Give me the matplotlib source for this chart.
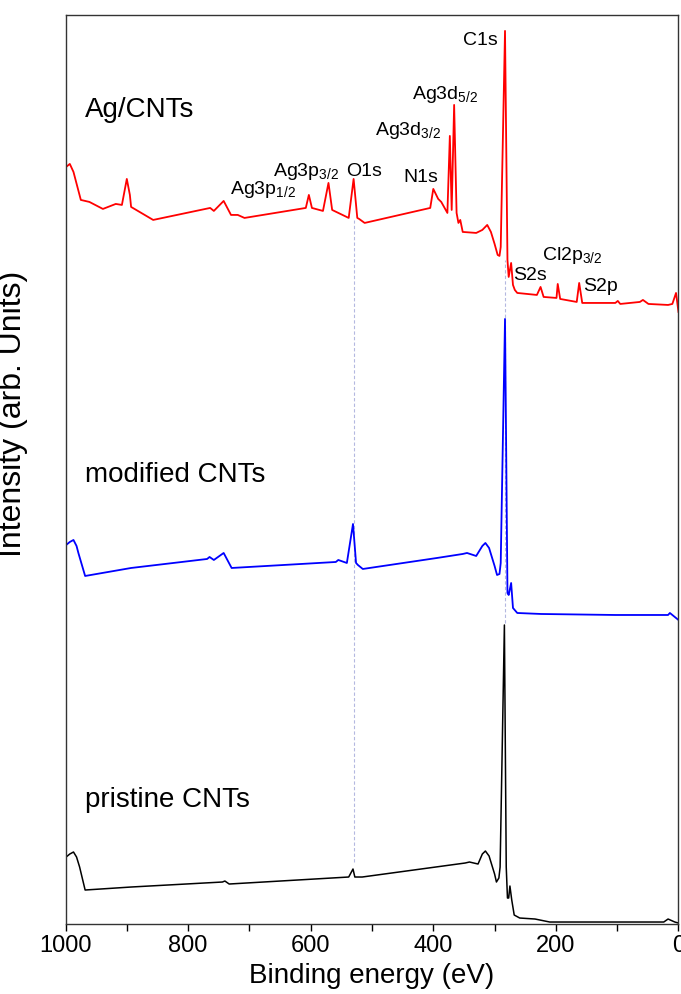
import matplotlib
matplotlib.use("Agg")
import matplotlib.pyplot as plt
from matplotlib.ticker import MultipleLocator

plt.rcParams['font.family'] = ['Liberation Sans', 'DejaVu Sans']
plt.rcParams['mathtext.fontset'] = 'custom'
plt.rcParams['mathtext.rm'] = 'Liberation Sans'
plt.rcParams['mathtext.default'] = 'regular'

# XPS survey spectra (binding energy in eV, intensity in arb. units, already offset)
ag_energy = [999, 993, 987, 981, 975, 961, 939, 918, 908, 900, 895, 893, 857, 764, 758, 742,
             730, 719, 708, 608, 603, 598, 580, 571, 565, 538, 530, 524, 521, 512, 405, 400,
             392, 387, 377, 373, 370, 366, 362, 359, 356, 352, 330, 320, 312, 306, 300, 295,
             292, 290, 283, 279, 277, 273, 270, 267, 263, 231, 225, 220, 199, 197, 193, 166,
             162, 157, 153, 103, 99, 95, 63, 58, 49, 17, 10, 4, 0]
ag_counts = [757, 760, 752, 738, 724, 722, 715, 720, 719, 745, 729, 717, 704, 716, 713, 723,
             709, 709, 706, 716, 729, 716, 713, 741, 714, 706, 745, 706, 705, 701, 716, 735,
             725, 722, 711, 788, 714, 819, 711, 701, 704, 692, 691, 694, 699, 692, 680, 669,
             668, 677, 893, 664, 647, 661, 639, 634, 631, 629, 637, 627, 626, 640, 625, 622,
             641, 621, 621, 621, 623, 620, 622, 624, 620, 619, 620, 631, 612]

mod_energy = [999, 993, 987, 982, 979, 968, 893, 769, 765, 758, 742, 729, 559, 555, 541, 531,
              526, 523, 515, 394, 352, 345, 330, 320, 315, 309, 300, 296, 292, 290, 283, 279,
              277, 273, 270, 263, 224, 103, 17, 14, 0]
mod_counts = [379, 382, 384, 378, 371, 348, 356, 365, 367, 364, 371, 356, 362, 364, 361, 400,
              361, 359, 355, 366, 370, 371, 368, 378, 381, 376, 358, 349, 350, 361, 605, 331,
              329, 341, 316, 311, 310, 309, 309, 311, 304]

pri_energy = [999, 993, 987, 982, 977, 968, 893, 744, 740, 733, 538, 531, 528, 516, 348, 341,
              327, 320, 315, 309, 300, 297, 293, 291, 284, 281, 279, 277, 275, 272, 268, 259,
              234, 210, 24, 17, 6, 0]
pri_counts = [67, 70, 72, 67, 57, 34, 37, 42, 43, 40, 47, 55, 47, 47, 61, 62,
              60, 70, 73, 68, 50, 42, 46, 57, 299, 57, 26, 26, 38, 24, 9, 6,
              5, 2, 2, 5, 2, 1]

sample_names = ['Ag/CNTs', 'modified CNTs', 'pristine CNTs']
sample_label_y = [807, 442, 117]

peak_labels = ['C1s', 'Ag3d$_{5/2}$', 'Ag3d$_{3/2}$', 'Ag3p$_{3/2}$', 'O1s', 'N1s',
               'Ag3p$_{1/2}$', 'Cl2p$_{3/2}$', 'S2s', 'S2p']
peak_label_x = [352, 435, 495, 662, 542, 449, 731, 222, 269, 155]
peak_label_y = [879, 825, 789, 748, 748, 742, 730, 664, 644, 633]

# guide lines for O1s and C1s: energy, lower and upper intensity
guide_energy = [530, 283.5]
guide_low = [62, 301]
guide_high = [704, 664]

fig = plt.figure(figsize=(6.81, 9.94), dpi=100)
ax = fig.add_axes([0.0962, 0.0704, 0.9001, 0.9146])

for e, lo, hi in zip(guide_energy, guide_low, guide_high):
    ax.vlines(e, lo, hi, colors='#b4b8e0', linestyles=(0, (3, 2)), linewidth=0.8)

ax.plot(ag_energy, ag_counts, color='#ff0000', lw=1.3)
ax.plot(mod_energy, mod_counts, color='#0000ff', lw=1.3)
ax.plot(pri_energy, pri_counts, color='#000000', lw=1.1)

for name, y in zip(sample_names, sample_label_y):
    ax.text(968, y, name, fontsize=20, ha='left', va='baseline')

for lab, x, y in zip(peak_labels, peak_label_x, peak_label_y):
    ax.text(x, y, lab, fontsize=14, ha='left', va='baseline')

ax.set_xlim(1000, 0)
ax.set_ylim(0, 909)
ax.xaxis.set_major_locator(MultipleLocator(200))
ax.xaxis.set_minor_locator(MultipleLocator(100))
ax.tick_params(axis='x', which='both', direction='out', length=5, width=1, labelsize=17, pad=3)
ax.set_yticks([])
for sp in ax.spines.values():
    sp.set_color('#333333')
    sp.set_linewidth(1)

ax.set_xlabel('Binding energy (eV)', fontsize=20, labelpad=4)
ax.set_ylabel('Intensity (arb. Units)', fontsize=23)
ax.yaxis.set_label_coords(-0.061, 0.561)

fig.savefig('out.png', dpi=100)
